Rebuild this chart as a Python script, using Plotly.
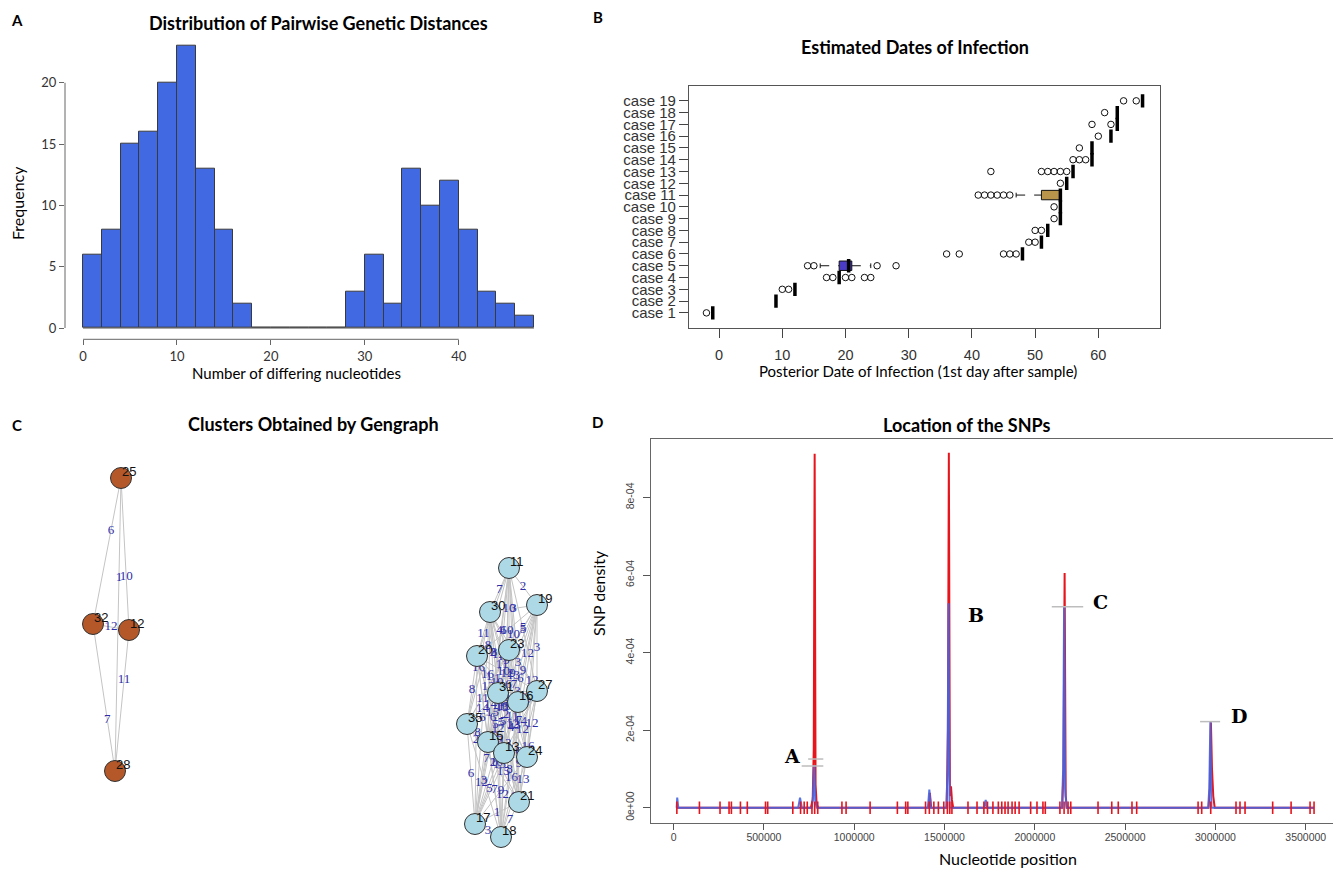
import plotly.graph_objects as go

W, H = 1333, 869
FONT_T = "Lato"
FONT_R = "Liberation Sans"
FONT_S = "Liberation Serif"

# ---------------- Panel A: pairwise distances histogram ----------------
hist_bin_left = [0, 2, 4, 6, 8, 10, 12, 14, 16, 18, 20, 22, 24, 26, 28, 30, 32, 34, 36, 38, 40, 42, 44, 46]
hist_counts = [6, 8, 15, 16, 20, 23, 13, 8, 2, 0, 0, 0, 0, 0, 3, 6, 2, 13, 10, 12, 8, 3, 2, 1]
hist_bin_width = 2
hist_xticks = [0, 10, 20, 30, 40]
hist_yticks = [0, 5, 10, 15, 20]

# ---------------- Panel B: estimated dates of infection ----------------
case_labels = ["case 1", "case 2", "case 3", "case 4", "case 5", "case 6", "case 7", "case 8",
               "case 9", "case 10", "case 11", "case 12", "case 13", "case 14", "case 15",
               "case 16", "case 17", "case 18", "case 19"]
case_median = [-1, 9, 12, 19, 20.5, 48, 51, 52, 54, 54, 54, 55, 56, 59, 59, 62, 63, 63, 67]
case_q1 = [-1, 9, 12, 19, 19, 48, 51, 52, 54, 54, 51, 55, 56, 59, 59, 62, 63, 63, 67]
case_q3 = [-1, 9, 12, 19, 21, 48, 51, 52, 54, 54, 54, 55, 56, 59, 59, 62, 63, 63, 67]
case_wlo = [-1, 9, 12, 19, 16, 48, 51, 52, 54, 54, 47, 55, 56, 59, 59, 62, 63, 63, 67]
case_whi = [-1, 9, 12, 19, 24, 48, 51, 52, 54, 54, 54, 55, 56, 59, 59, 62, 63, 63, 67]
case_outliers = [[-2], [], [10, 11], [17, 18, 20, 21, 23, 24], [14, 15, 25, 28],
                 [36, 38, 45, 46, 47], [49, 50], [50, 51], [53], [53],
                 [41, 42, 43, 44, 45, 46], [54], [43, 51, 52, 53, 54, 55], [56, 57, 58],
                 [57], [60], [59, 62], [61], [64, 66]]
box_fill = {"case 5": "#4A3CC4", "case 11": "#B8954A"}
dates_xticks = [0, 10, 20, 30, 40, 50, 60]

# ---------------- Panel C: gengraph clusters (layout coordinates) ----------------
brown_nodes = ["25", "32", "12", "28"]
brown_x = [121, 93, 129, 115]
brown_y = [478, 624, 630, 771]
brown_edge_a = ["25", "25", "25", "32", "32", "12"]
brown_edge_b = ["32", "28", "12", "12", "28", "28"]
brown_edge_w = [6, 1, 10, 12, 7, 11]
brown_label_t = [0.36, 0.34, 0.65, 0.5, 0.65, 0.355]

blue_nodes = ["11", "19", "30", "23", "20", "31", "27", "16", "35", "15", "13", "24", "21", "17", "18"]
blue_x = [509, 537, 490, 509, 477, 498, 537, 518, 467, 488, 504, 527, 519, 475, 501]
blue_y = [568, 605, 612, 650, 656, 693, 691, 702, 724, 742, 753, 757, 802, 824, 837]
# upper-triangular distance rows (node i to nodes i+1 ...)
blue_dist_rows = [
    [2, 7, 10, 11, 6, 5, 10, 8, 12, 9, 3, 7, 6, 13],
    [3, 5, 10, 9, 3, 12, 11, 9, 6, 12, 7, 2, 7],
    [4, 11, 8, 9, 12, 16, 1, 10, 6, 15, 6, 5],
    [2, 10, 9, 13, 12, 4, 5, 6, 13, 10, 12],
    [16, 12, 1, 8, 11, 14, 10, 12, 2, 9],
    [3, 1, 14, 6, 5, 12, 8, 7, 15],
    [6, 13, 11, 14, 12, 16, 12, 9],
    [15, 5, 4, 12, 6, 10, 8],
    [8, 16, 12, 2, 6, 3],
    [1, 14, 15, 12, 7],
    [11, 16, 5, 12],
    [13, 9, 6],
    [1, 7],
    [3],
]

# ---------------- Panel D: SNP locations ----------------
snp_positions = [18000, 143000, 257000, 307000, 320000, 370000, 408000, 509000, 521000, 660000,
                 703000, 723000, 740000, 766000, 781000, 798000, 932000, 955000, 1088000, 1239000,
                 1285000, 1297000, 1395000, 1416000, 1441000, 1466000, 1496000, 1516000, 1529000,
                 1541000, 1630000, 1680000, 1718000, 1738000, 1768000, 1798000, 1817000, 1835000,
                 1852000, 1874000, 1891000, 1913000, 1977000, 2012000, 2045000, 2058000, 2139000,
                 2162000, 2184000, 2199000, 2350000, 2426000, 2462000, 2538000, 2564000, 2904000,
                 2924000, 2974000, 3114000, 3136000, 3164000, 3317000, 3419000, 3524000, 3546000]
red_x = [17000, 760000, 770000, 776000, 781000, 786000, 792000, 800000, 1412000, 1419000, 1426000,
         1512000, 1519000, 1524000, 1530000, 1536000, 1541000, 1548000, 2152000, 2159000, 2165000,
         2171000, 2178000, 2962000, 2969000, 2975000, 2981000, 2988000, 2996000, 3546000]
red_y = [0, 0, 0.2e-4, 1.5e-4, 9.13e-4, 0.6e-4, 0.1e-4, 0, 0, 0.38e-4, 0,
         0, 2.0e-4, 9.15e-4, 0.3e-4, 0.55e-4, 0.2e-4, 0, 0, 1.0e-4, 6.05e-4,
         0.3e-4, 0, 0, 0.5e-4, 2.2e-4, 1.0e-4, 0.3e-4, 0, 0]
blue_x_d = [17000, 20000, 26000, 690000, 700000, 710000, 765000, 772000, 778000, 784000, 792000,
            1408000, 1416000, 1424000, 1510000, 1517000, 1522000, 1528000, 1720000, 1728000, 1736000,
            2150000, 2157000, 2162000, 2168000, 2175000, 2960000, 2966000, 2972000, 2978000, 3546000]
blue_y_d = [0, 0.26e-4, 0, 0, 0.26e-4, 0, 0, 0.3e-4, 1.1e-4, 0.2e-4, 0,
            0, 0.47e-4, 0, 0, 1.0e-4, 5.27e-4, 0, 0, 0.2e-4, 0,
            0, 1.0e-4, 5.18e-4, 0.5e-4, 0, 0, 0.5e-4, 2.22e-4, 0, 0]
level_y = [1.255e-4, 1.075e-4, 5.18e-4, 2.22e-4]
level_x0 = [745000, 709000, 2094000, 2915000]
level_x1 = [829000, 829000, 2268000, 3026000]
peak_names = ["A", "B", "C", "D"]
peak_label_x = [654000, 1673000, 2361000, 3131000]
peak_label_y = [1.33e-4, 4.96e-4, 5.31e-4, 2.37e-4]
snp_xticks = [0, 500000, 1000000, 1500000, 2000000, 2500000, 3000000, 3500000]
snp_yticks = [0, 2e-4, 4e-4, 6e-4, 8e-4]
snp_yticktext = ["0e+00", "2e-04", "4e-04", "6e-04", "8e-04"]


# ---------------- helpers ----------------
def px_x(p):
    return p / W


def px_y(p):
    return 1 - p / H


def dom_x(a, b):
    return [a / W, b / W]


def dom_y(top, bottom):
    return [1 - bottom / H, 1 - top / H]


def frac(v, rng):
    return (v - rng[0]) / (rng[1] - rng[0])


annotations = []
shapes = []


def note(text, x, y, size, family=FONT_T, angle=0, color="#000", xanchor="center", yanchor="middle"):
    annotations.append(dict(text=text, x=px_x(x), y=px_y(y), xref="paper", yref="paper",
                            showarrow=False, textangle=angle, xanchor=xanchor, yanchor=yanchor,
                            font=dict(family=family, size=size, color=color)))


fig = go.Figure()

# ================= Panel A =================
A_xr = [-1.92, 49.92]
A_yr = [-0.92, 23.92]
fig.add_trace(go.Scatter(x=[hist_bin_left[0], hist_bin_left[-1] + hist_bin_width], y=[0, 0],
                         mode="lines", line=dict(color="#555", width=1), xaxis="x", yaxis="y",
                         hoverinfo="skip"))
fig.add_trace(go.Bar(x=[b + hist_bin_width / 2 for b in hist_bin_left], y=hist_counts,
                     width=hist_bin_width, marker=dict(color="#4169E1", line=dict(color="#3a3a3a", width=1)),
                     xaxis="x", yaxis="y"))
shapes.append(dict(type="line", xref="x domain", yref="y domain",
                   x0=frac(hist_xticks[0], A_xr), x1=frac(hist_xticks[-1], A_xr), y0=0, y1=0,
                   line=dict(color="#666", width=1)))
shapes.append(dict(type="line", xref="x domain", yref="y domain", x0=0, x1=0,
                   y0=frac(hist_yticks[0], A_yr), y1=frac(hist_yticks[-1], A_yr),
                   line=dict(color="#666", width=1)))

# ================= Panel B =================
B_xr = [-4.76, 69.76]
B_yr = [-0.26, 20.26]
half_box = 0.4
half_staple = 0.2
for i, lab in enumerate(case_labels):
    c = i + 1
    if case_q3[i] > case_q1[i]:
        fig.add_trace(go.Scatter(
            x=[case_q1[i], case_q3[i], case_q3[i], case_q1[i], case_q1[i]],
            y=[c - half_box, c - half_box, c + half_box, c + half_box, c - half_box],
            mode="lines", fill="toself", fillcolor=box_fill.get(lab, "#ffffff"),
            line=dict(color="#111", width=1), xaxis="x2", yaxis="y2", hoverinfo="skip"))
    if case_wlo[i] < case_q1[i]:
        fig.add_trace(go.Scatter(x=[case_wlo[i], case_q1[i]], y=[c, c], mode="lines",
                                 line=dict(color="#111", width=1, dash="dash"), xaxis="x2", yaxis="y2"))
        fig.add_trace(go.Scatter(x=[case_wlo[i], case_wlo[i]], y=[c - half_staple, c + half_staple],
                                 mode="lines", line=dict(color="#111", width=1), xaxis="x2", yaxis="y2"))
    if case_whi[i] > case_q3[i]:
        fig.add_trace(go.Scatter(x=[case_q3[i], case_whi[i]], y=[c, c], mode="lines",
                                 line=dict(color="#111", width=1, dash="dash"), xaxis="x2", yaxis="y2"))
        fig.add_trace(go.Scatter(x=[case_whi[i], case_whi[i]], y=[c - half_staple, c + half_staple],
                                 mode="lines", line=dict(color="#111", width=1), xaxis="x2", yaxis="y2"))

fig.add_trace(go.Scatter(x=case_median, y=list(range(1, len(case_labels) + 1)), mode="markers",
                         marker=dict(symbol="line-ns", size=9.5, line=dict(color="#000", width=3.5)),
                         xaxis="x2", yaxis="y2"))
out_x, out_y = [], []
for i, outs in enumerate(case_outliers):
    for v in outs:
        out_x.append(v)
        out_y.append(i + 1)
fig.add_trace(go.Scatter(x=out_x, y=out_y, mode="markers",
                         marker=dict(symbol="circle-open", size=6.5, color="#111", line=dict(width=1)),
                         xaxis="x2", yaxis="y2"))

# ================= Panel C =================
bpos = {n: (x, y) for n, x, y in zip(brown_nodes, brown_x, brown_y)}
ex, ey, lx, ly, lt = [], [], [], [], []
for a, b, w, t in zip(brown_edge_a, brown_edge_b, brown_edge_w, brown_label_t):
    (x0, y0), (x1, y1) = bpos[a], bpos[b]
    ex += [x0, x1, None]
    ey += [y0, y1, None]
    lx.append(x0 + t * (x1 - x0))
    ly.append(y0 + t * (y1 - y0))
    lt.append(str(w))
for i, row in enumerate(blue_dist_rows):
    for k, w in enumerate(row):
        j = i + 1 + k
        x0, y0, x1, y1 = blue_x[i], blue_y[i], blue_x[j], blue_y[j]
        ex += [x0, x1, None]
        ey += [y0, y1, None]
        lx.append((x0 + x1) / 2)
        ly.append((y0 + y1) / 2)
        lt.append(str(w))
fig.add_trace(go.Scatter(x=ex, y=ey, mode="lines", line=dict(color="#c4c4c4", width=1),
                         xaxis="x3", yaxis="y3", hoverinfo="skip"))
fig.add_trace(go.Scatter(x=lx, y=ly, mode="text", text=lt,
                         textfont=dict(family=FONT_S, size=13, color="#2E2EA8"),
                         xaxis="x3", yaxis="y3", hoverinfo="skip"))
fig.add_trace(go.Scatter(x=brown_x, y=brown_y, mode="markers",
                         marker=dict(size=21, color="#B4582A", line=dict(color="#333", width=1)),
                         xaxis="x3", yaxis="y3"))
fig.add_trace(go.Scatter(x=blue_x, y=blue_y, mode="markers",
                         marker=dict(size=21, color="#ADD8E6", line=dict(color="#333", width=1)),
                         xaxis="x3", yaxis="y3"))
for n, x, y in list(zip(brown_nodes, brown_x, brown_y)) + list(zip(blue_nodes, blue_x, blue_y)):
    annotations.append(dict(text=n, x=x, y=y, xref="x3", yref="y3", showarrow=False,
                            xshift=8, yshift=7, font=dict(family=FONT_R, size=13, color="#111")))

# ================= Panel D =================
D_xr = [-126800, 3651000]
D_yr = [-0.387e-4, 9.5e-4]
fig.add_trace(go.Scatter(x=red_x, y=red_y, mode="lines", line=dict(color="#E8141C", width=2),
                         xaxis="x4", yaxis="y4"))
fig.add_trace(go.Scatter(x=blue_x_d, y=blue_y_d, mode="lines",
                         line=dict(color="rgba(70,100,225,0.9)", width=2), xaxis="x4", yaxis="y4"))
fig.add_trace(go.Scatter(x=snp_positions, y=[0] * len(snp_positions), mode="markers",
                         marker=dict(symbol="line-ns", size=9, line=dict(color="#E8141C", width=1.6)),
                         xaxis="x4", yaxis="y4"))
sx, sy = [], []
for y, a, b in zip(level_y, level_x0, level_x1):
    sx += [a, b, None]
    sy += [y, y, None]
fig.add_trace(go.Scatter(x=sx, y=sy, mode="lines", line=dict(color="#bdbdbd", width=1.5),
                         xaxis="x4", yaxis="y4", hoverinfo="skip"))
for name, x, y in zip(peak_names, peak_label_x, peak_label_y):
    annotations.append(dict(text="<b>%s</b>" % name, x=x, y=y, xref="x4", yref="y4", showarrow=False,
                            font=dict(family="DejaVu Serif", size=19, color="#000")))

# ================= titles & labels =================
note("<b>A</b>", 17, 20, 15)
note("<b>Distribution of Pairwise Genetic Distances</b>", 318, 23, 18)
note("Number of differing nucleotides", 296, 373, 15)
note("Frequency", 17, 203, 16, angle=-90)

note("<b>B</b>", 598, 17, 15)
note("<b>Estimated Dates of Infection</b>", 915, 47, 18)
note("Posterior Date of Infection (1st day after sample)", 918, 371, 15)

note("<b>C</b>", 17, 425, 15)
note("<b>Clusters Obtained by Gengraph</b>", 313, 424, 18)

note("<b>D</b>", 597, 422, 15)
note("<b>Location of the SNPs</b>", 966, 425, 18)
note("Nucleotide position", 1008, 858, 16)
note("SNP density", 598, 593, 16, angle=-90)

ax_common = dict(showgrid=False, zeroline=False)
fig.update_layout(
    width=W, height=H, autosize=False, margin=dict(l=0, r=0, t=0, b=0),
    paper_bgcolor="white", plot_bgcolor="white", showlegend=False, bargap=0,
    annotations=annotations, shapes=shapes,
    xaxis=dict(domain=dom_x(65, 552), range=A_xr, anchor="y", tickvals=hist_xticks,
               ticks="outside", ticklen=5, tickcolor="#666", showline=False,
               tickfont=dict(family=FONT_T, size=13, color="#333"), **ax_common),
    yaxis=dict(domain=dom_y(34.7, 339.3), range=A_yr, anchor="x", tickvals=hist_yticks,
               ticks="outside", ticklen=5, tickcolor="#666", showline=False,
               tickfont=dict(family=FONT_T, size=13, color="#333"), **ax_common),
    xaxis2=dict(domain=dom_x(689, 1160), range=B_xr, anchor="y2", tickvals=dates_xticks,
                ticks="outside", ticklen=9, tickcolor="#444", showline=True, mirror=True,
                linecolor="#555", linewidth=1.2, ticklabelstandoff=5,
                tickfont=dict(family=FONT_R, size=14.5, color="#333"), **ax_common),
    yaxis2=dict(domain=dom_y(86, 327.7), range=B_yr, anchor="x2",
                tickvals=list(range(1, len(case_labels) + 1)), ticktext=case_labels,
                ticks="outside", ticklen=9, tickcolor="#444", showline=True, mirror=True,
                linecolor="#555", linewidth=1.2,
                tickfont=dict(family=FONT_R, size=15, color="#333"), **ax_common),
    xaxis3=dict(domain=dom_x(40, 560), range=[40, 560], anchor="y3", visible=False, **ax_common),
    yaxis3=dict(domain=dom_y(430, 860), range=[860, 430], anchor="x3", visible=False, **ax_common),
    xaxis4=dict(domain=dom_x(650.7, W), range=D_xr, anchor="y4", tickvals=snp_xticks,
                tickformat="d", ticks="outside", ticklen=6, tickcolor="#555",
                showline=True, mirror=True, linecolor="#666", linewidth=1.2, ticklabelstandoff=-1,
                tickfont=dict(family=FONT_R, size=10.5, color="#444"), **ax_common),
    yaxis4=dict(domain=dom_y(439.3, 822.7), range=D_yr, anchor="x4", tickvals=snp_yticks,
                ticktext=snp_yticktext, tickangle=-90, ticks="outside", ticklen=7,
                tickcolor="#555", showline=True, mirror=False, linecolor="#666", linewidth=1.2,
                ticklabelstandoff=4,
                tickfont=dict(family=FONT_R, size=10.5, color="#444"), **ax_common),
)

fig.write_html("out.html", config={"displayModeBar": False},
               post_script="document.body.style.margin='0';document.body.style.overflow='hidden';")
